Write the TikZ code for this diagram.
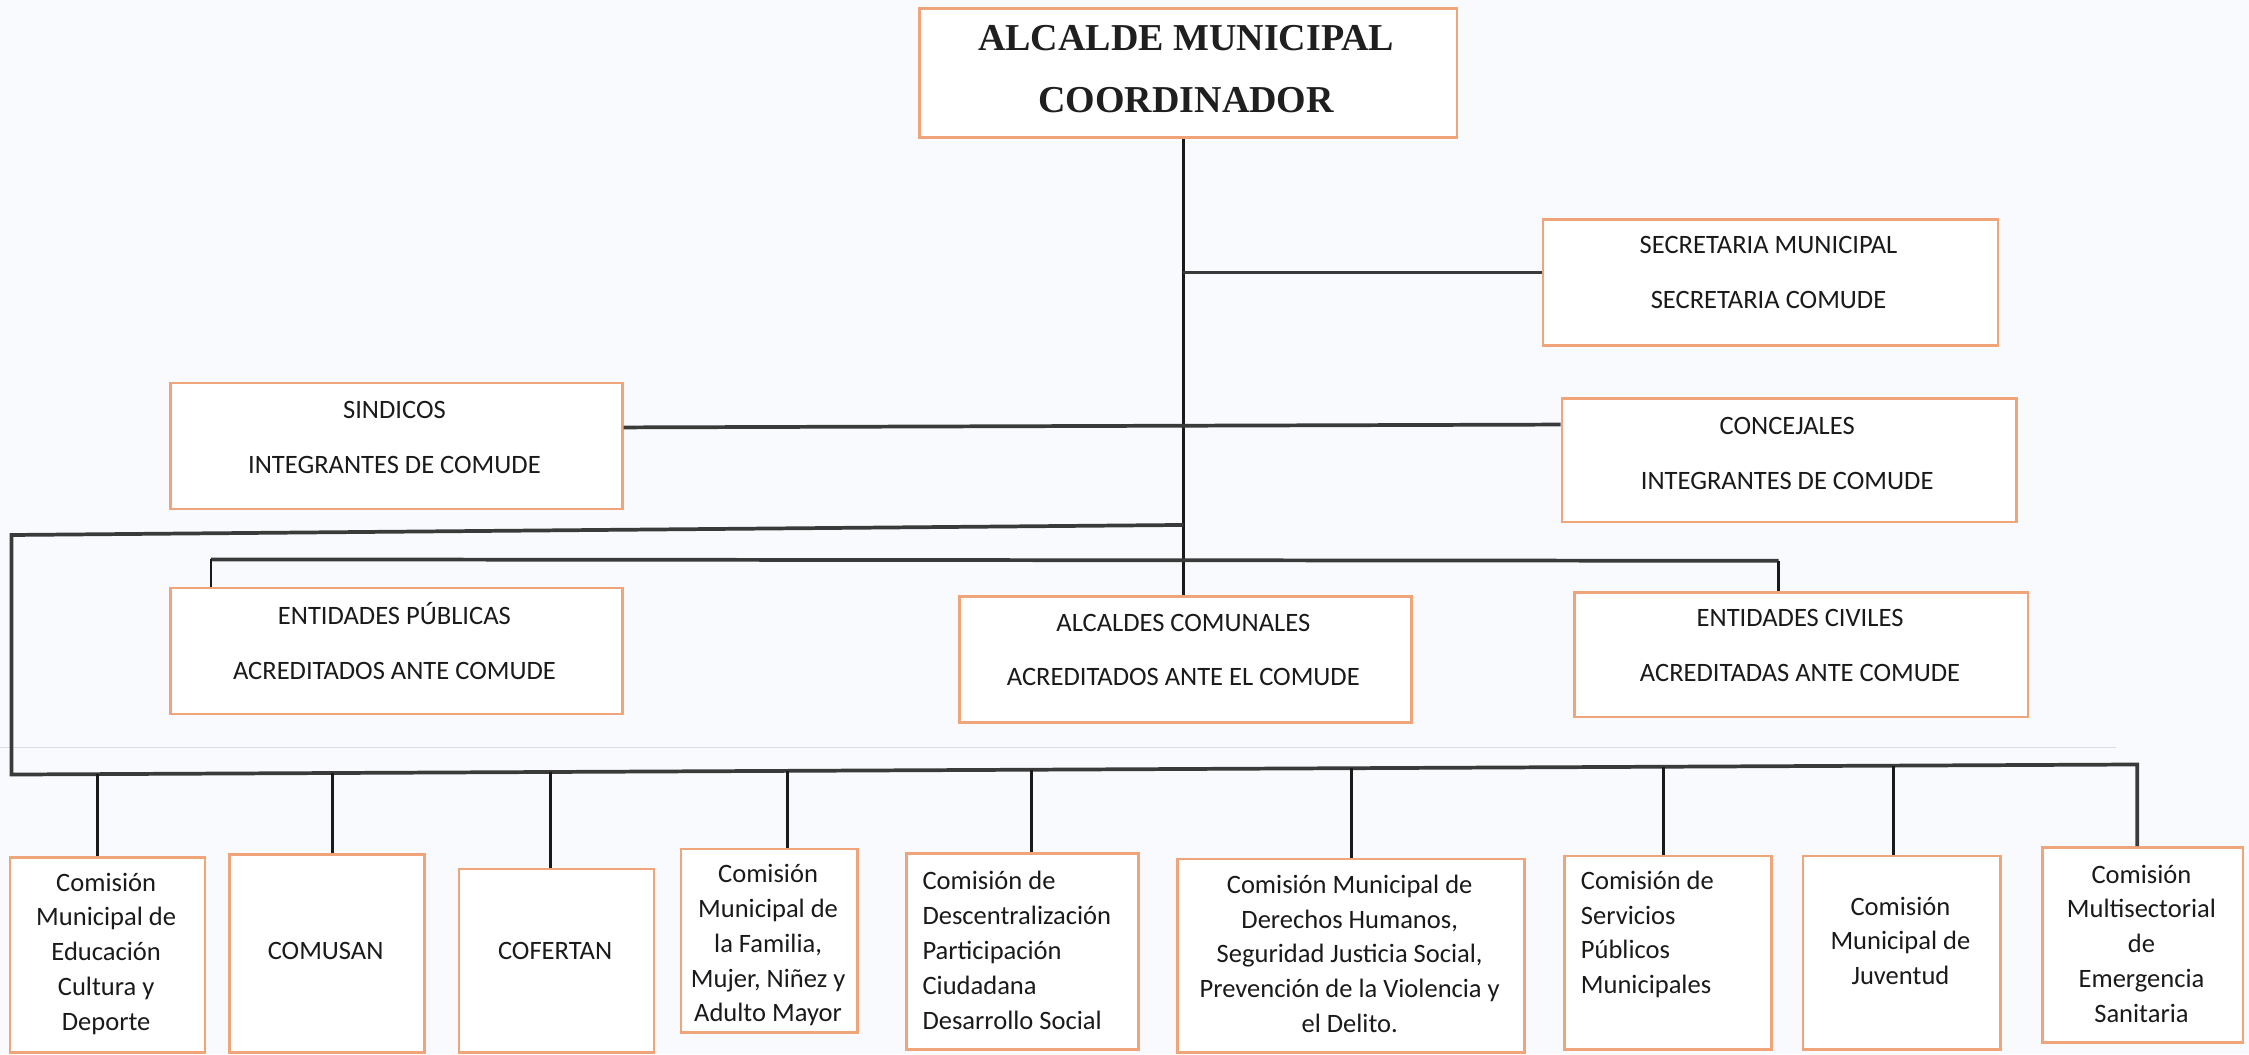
\documentclass[tikz,border=0pt]{standalone}
\usepackage{fontspec}
\setmainfont{Carlito}
\newfontfamily\titlefont{Liberation Serif}
\definecolor{boxorange}{HTML}{F0A47A}
\definecolor{linegray}{HTML}{3A3A3A}
\definecolor{paper}{HTML}{F8FAFD}
\definecolor{faintline}{HTML}{D9DEE8}
\definecolor{inkcol}{HTML}{1A1A1A}
\tikzset{
  orgbox/.style={draw=boxorange, line width=1.8pt, fill=white, inner sep=0pt, anchor=north west},
  conn/.style={draw=linegray, line width=2.6pt, line join=miter},
  trunkline/.style={draw=inkcol, line width=1.9pt},
  dropline/.style={draw=inkcol, line width=2pt},
  midtext/.style={font=\fontsize{18.5}{38}\selectfont, align=center, text=inkcol, inner sep=0pt},
  bottext/.style={font=\fontsize{18.5}{24.3}\selectfont, align=center, text=inkcol, inner sep=0pt},
  bottextl/.style={font=\fontsize{18.5}{24.3}\selectfont, align=left, text=inkcol, inner sep=0pt, anchor=west},
  titletext/.style={font=\titlefont\bfseries\fontsize{26.5}{43}\selectfont, align=center, text=black!88, inner sep=0pt}
}
\begin{document}
\begin{tikzpicture}[x=1pt, y=-1pt]
\fill[paper] (0,0) rectangle (1568,735);
\useasboundingbox (0,0) rectangle (1568,735);
\draw[faintline, line width=1pt] (0,521) -- (1475,521);

% boxes
\node[orgbox, minimum width=375pt, minimum height=90pt] (top) at (640,5) {};
\node[orgbox, minimum width=317pt, minimum height=88pt] (sec) at (1075,152) {};
\node[orgbox, minimum width=315pt, minimum height=88pt] (sind) at (118,266) {};
\node[orgbox, minimum width=317pt, minimum height=86pt] (conc) at (1088,277) {};
\node[orgbox, minimum width=315pt, minimum height=88pt] (ep) at (118,409) {};
\node[orgbox, minimum width=315pt, minimum height=88pt] (ac) at (668,415) {};
\node[orgbox, minimum width=316pt, minimum height=87pt] (ec) at (1097,412) {};
\node[orgbox, minimum width=136pt, minimum height=136pt] (b1) at (6,597) {};
\node[orgbox, minimum width=136pt, minimum height=138pt] (b2) at (159,595) {};
\node[orgbox, minimum width=136pt, minimum height=128pt] (b3) at (319,605) {};
\node[orgbox, minimum width=123pt, minimum height=128pt] (b4) at (474,591) {};
\node[orgbox, minimum width=162pt, minimum height=137pt] (b5) at (631,594) {};
\node[orgbox, minimum width=242pt, minimum height=135pt] (b6) at (820,598) {};
\node[orgbox, minimum width=144pt, minimum height=135pt] (b7) at (1090,596) {};
\node[orgbox, minimum width=138pt, minimum height=135pt] (b8) at (1256,596) {};
\node[orgbox, minimum width=140pt, minimum height=136pt] (b9) at (1423,590) {};

% texts
\node[titletext] (ttop) at (827,48) {ALCALDE MUNICIPAL\\COORDINADOR};
\node[midtext] (tsec) at (1233,190) {SECRETARIA MUNICIPAL\\SECRETARIA COMUDE};
\node[midtext] (tsind) at (275,305) {SINDICOS\\INTEGRANTES DE COMUDE};
\node[midtext] (tconc) at (1246,316) {CONCEJALES\\INTEGRANTES DE COMUDE};
\node[midtext] (tep) at (275,447) {ENTIDADES PÚBLICAS\\ACREDITADOS ANTE COMUDE};
\node[midtext] (tac) at (825,453) {ALCALDES COMUNALES\\ACREDITADOS ANTE EL COMUDE};
\node[midtext] (tec) at (1255,450) {ENTIDADES CIVILES\\ACREDITADAS ANTE COMUDE};

\node[bottext] (t1) at (74,665) {Comisión\\Municipal de\\Educación\\Cultura y\\Deporte};
\node[bottext] (t2) at (227,663) {COMUSAN};
\node[bottext] (t3) at (387,663) {COFERTAN};
\node[bottext] (t4) at (535.5,659) {Comisión\\Municipal de\\la Familia,\\Mujer, Niñez y\\Adulto Mayor};
\node[bottextl] (t5) at (643,662.5) {Comisión de\\Descentralización\\Participación\\Ciudadana\\Desarrollo Social};
\node[bottext] (t6) at (941,665) {Comisión Municipal de\\Derechos Humanos,\\Seguridad Justicia Social,\\Prevención de la Violencia y\\el Delito.};
\node[bottextl] (t7) at (1102,651.5) {Comisión de\\Servicios\\Públicos\\Municipales};
\node[bottext] (t8) at (1325,656) {Comisión\\Municipal de\\Juventud};
\node[bottext] (t9) at (1493,658) {Comisión\\Multisectorial\\de\\Emergencia\\Sanitaria};

% connectors
\coordinate (tk) at (825,0);
\draw[trunkline] (top.south -| tk) -- (ac.north -| tk);
\coordinate (js) at (825,190);
\draw[conn] (js) -- (js -| sec.west);
\coordinate (jl) at (433,298);
\coordinate (jr) at (1088,296);
\draw[conn] (jl -| sind.east) -- (jr -| conc.west);
\coordinate (ml) at (147,390);
\coordinate (mr) at (1240,391);
\draw[conn] (ml) -- (mr);
\draw[dropline, line width=1.6pt] (ml) -- (ml |- ep.north);
\draw[dropline, line width=1.6pt] (mr) -- (mr |- ec.north);
\coordinate (jt) at (825,366);
\coordinate (cl) at (8,373);
\coordinate (cb) at (8,540);
\coordinate (cr) at (1490,533);
\draw[conn] (jt) -- (cl) -- (cb) -- (cr) -- (cr |- b9.north);
\foreach \i/\x in {1/68,2/232,3/384,4/549,5/719,6/942,7/1160,8/1320}{
  \pgfmathsetmacro\yy{540-7*(\x-8)/1482}
  \coordinate (d\i) at (\x,\yy);
  \draw[dropline] (d\i) -- (d\i |- b\i.north);
}
\end{tikzpicture}
\end{document}
